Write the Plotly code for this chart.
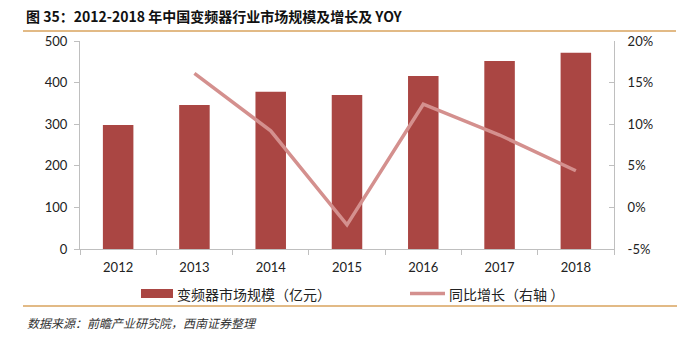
import plotly.graph_objects as go

years = ["2012", "2013", "2014", "2015", "2016", "2017", "2018"]
market_size = [298, 346, 378, 370, 416, 452, 472]
yoy_pct = [None, 16.1, 9.2, -2.1, 12.4, 8.7, 4.4]

left_ticks = [0, 100, 200, 300, 400, 500]
right_ticks = [-5, 0, 5, 10, 15, 20]
right_ticktext = ["-5%", "0%", "5%", "10%", "15%", "20%"]

title_text = "图 35：2012-2018 年中国变频器行业市场规模及增长及 YOY"
bar_name = "变频器市场规模（亿元）"
line_name = "同比增长（右轴 ）"
source_text = "数据来源：前瞻产业研究院，西南证券整理"

BAR_COLOR = "#AA4643"
LINE_COLOR = "#D4908E"
AXIS_COLOR = "#BFBFBF"
RULE_COLOR = "#D9A35E"
NUM_FONT = "Lato, 'Noto Sans CJK SC', sans-serif"
CJK_FONT = "'Noto Sans CJK SC', sans-serif"

fig = go.Figure()
fig.add_trace(go.Bar(x=years, y=market_size, name=bar_name,
                     marker=dict(color=BAR_COLOR, line=dict(width=0)),
                     yaxis="y", showlegend=False))
fig.add_trace(go.Scatter(x=years, y=yoy_pct, name=line_name, mode="lines",
                         line=dict(color=LINE_COLOR, width=3.5),
                         yaxis="y2", showlegend=False))

W, H = 679, 340
L, R, T, B = 80, 65, 41, 91
pw, ph = W - L - R, H - T - B

def px(x):
    return (x - L) / pw

def py(y):
    return (H - B - y) / ph

TICK_FONT = dict(family=NUM_FONT, size=13, color="#222222")

fig.update_layout(
    width=W, height=H,
    margin=dict(l=L, r=R, t=T, b=B),
    paper_bgcolor="white", plot_bgcolor="white",
    bargap=0.6,
    font=dict(family=NUM_FONT, size=12, color="#333333"),
    title=dict(text="<b>" + title_text + "</b>", xref="container", yref="container",
               x=26 / W, y=1 - 17 / H, xanchor="left", yanchor="middle",
               font=dict(family=CJK_FONT, size=14, color="#111111")),
    xaxis=dict(type="category", showline=True, linecolor=AXIS_COLOR, linewidth=1,
               ticks="outside", ticklen=5, tickcolor=AXIS_COLOR, tickson="boundaries",
               showgrid=False, tickfont=TICK_FONT, ticklabelstandoff=6),
    yaxis=dict(range=[0, 500], tickvals=left_ticks, showline=True, linecolor=AXIS_COLOR,
               linewidth=1, ticks="outside", ticklen=5, tickcolor=AXIS_COLOR,
               showgrid=False, zeroline=False, tickfont=TICK_FONT, ticklabelstandoff=4),
    yaxis2=dict(range=[-5, 20], overlaying="y", side="right", tickvals=right_ticks,
                ticktext=right_ticktext, showline=True, linecolor=AXIS_COLOR, linewidth=1,
                ticks="inside", ticklen=5, tickcolor=AXIS_COLOR, showgrid=False,
                zeroline=False, tickfont=TICK_FONT, ticklabelstandoff=10),
    shapes=[
        dict(type="line", xref="paper", yref="paper", x0=px(23), x1=px(676),
             y0=py(31), y1=py(31), line=dict(color=RULE_COLOR, width=1.5)),
        dict(type="line", xref="paper", yref="paper", x0=px(23), x1=px(677),
             y0=py(306), y1=py(306), line=dict(color=RULE_COLOR, width=1.5)),
        dict(type="rect", xref="paper", yref="paper", x0=px(141), x1=px(173),
             y0=py(298), y1=py(289), fillcolor=BAR_COLOR, line=dict(width=0)),
        dict(type="line", xref="paper", yref="paper", x0=px(410), x1=px(445),
             y0=py(293.5), y1=py(293.5), line=dict(color=LINE_COLOR, width=3.5)),
    ],
    annotations=[
        dict(text=bar_name, xref="paper", yref="paper", x=px(175), y=py(293.5),
             xanchor="left", yanchor="middle", showarrow=False,
             font=dict(family=CJK_FONT, size=14, color="#222222")),
        dict(text=line_name, xref="paper", yref="paper", x=px(447), y=py(293.5),
             xanchor="left", yanchor="middle", showarrow=False,
             font=dict(family=CJK_FONT, size=14, color="#222222")),
        dict(text="<i>" + source_text + "</i>", xref="paper", yref="paper", x=px(25),
             y=py(322), xanchor="left", yanchor="middle", showarrow=False,
             font=dict(family=CJK_FONT, size=12, color="#333333")),
    ],
)

fig.write_html("out.html")
